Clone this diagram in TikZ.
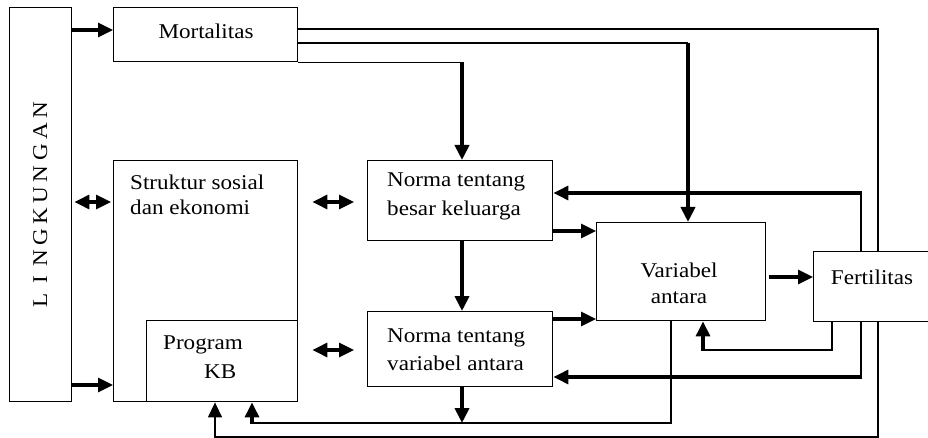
\documentclass[tikz,border=0pt]{standalone}
\usepackage{fontspec}
\setmainfont{Liberation Serif}[FakeStretch=1.1]
\usetikzlibrary{arrows.meta}
\newcommand{\lkletter}[1]{\makebox[21.2pt]{#1}}
\begin{document}
\begin{tikzpicture}[x=1pt,y=-1pt,
  box/.style={draw, line width=1.4pt, inner sep=0pt, anchor=north west},
  txt/.style={inner sep=0pt, font=\fontsize{21}{25}\selectfont, anchor=base west},
  tip/.style={-{Triangle[length=15pt,width=14pt]}},
  thinline/.style={line width=1.4pt},
  arrowthin/.style={line width=1.4pt, tip},
  arrowmid/.style={line width=3.2pt, tip},
  arrowthick/.style={line width=3.8pt, tip},
  dblarrow/.style={line width=3.2pt, {Triangle[length=15pt,width=14pt]}-{Triangle[length=15pt,width=14pt]}}]
\useasboundingbox (0,0) rectangle (928,438);
\clip (0,0) rectangle (928,438);
% boxes
\node[box, minimum width=62pt, minimum height=394pt] (ling) at (9,7) {};
\node[box, minimum width=184pt, minimum height=54pt] (mort) at (113,7) {};
\node[box, minimum width=184pt, minimum height=241pt] (struk) at (113,160) {};
\node[box, minimum width=151pt, minimum height=81pt] (kb) at (146,320) {};
\node[box, minimum width=185pt, minimum height=80pt] (nbk) at (367,160) {};
\node[box, minimum width=185pt, minimum height=75pt] (nva) at (367,311) {};
\node[box, minimum width=169pt, minimum height=98pt] (va) at (596,222) {};
\node[box, minimum width=140pt, minimum height=70pt] (fert) at (813,251) {};
% texts
\node[txt, anchor=base] (tmort) at (206,39) {Mortalitas};
\node[txt] (ts1) at (130,190) {Struktur sosial};
\node[txt] (ts2) at (130,215) {dan ekonomi};
\node[txt] (tkb1) at (163,349) {Program};
\node[txt] (tkb2) at (204,378) {KB};
\node[txt] (tn1) at (387,187) {Norma tentang};
\node[txt] (tn2) at (387,216) {besar keluarga};
\node[txt] (tv1) at (387,342) {Norma tentang};
\node[txt] (tv2) at (387,370) {variabel antara};
\node[txt, anchor=base] (tva1) at (679,277) {Variabel};
\node[txt, anchor=base] (tva2) at (679,303) {antara};
\node[txt, anchor=base] (tf) at (872,284) {Fertilitas};
\node[txt, anchor=base, rotate=90] (tl) at (47,205.5) {\lkletter{L}\lkletter{I}\lkletter{N}\lkletter{G}\lkletter{K}\lkletter{U}\lkletter{N}\lkletter{G}\lkletter{A}\lkletter{N}};
% helper rows and columns
\coordinate (y29) at (0,29);
\coordinate (y30) at (0,30);
\coordinate (y43) at (0,43);
\coordinate (y193) at (0,193);
\coordinate (y202) at (0,202);
\coordinate (y231) at (0,231);
\coordinate (y277) at (0,277);
\coordinate (y319) at (0,319);
\coordinate (y350) at (0,350);
\coordinate (y377) at (0,377);
\coordinate (y385) at (0,385);
\coordinate (y423) at (0,423);
\coordinate (y437) at (0,437);
\coordinate (x215) at (215,0);
\coordinate (x252) at (252,0);
\coordinate (x462) at (462,0);
\coordinate (x671) at (671,0);
\coordinate (x688) at (688,0);
\coordinate (x703) at (703,0);
\coordinate (x832) at (832,0);
\coordinate (x861) at (861,0);
\coordinate (x878) at (878,0);
% connectors
\draw[arrowmid] (ling.east |- y30) -- (mort.west |- y30);
\draw[arrowmid] (ling.east |- y385) -- (struk.west |- y385);
\draw[dblarrow, shorten <=2pt, shorten >=2pt] (ling.east |- y202) -- (struk.west |- y202);
\draw[dblarrow, shorten <=14pt, shorten >=13pt] (struk.east |- y202) -- (nbk.west |- y202);
\draw[dblarrow, shorten <=14pt, shorten >=13pt] (kb.east |- y350) -- (nva.west |- y350);
% Mortalitas -> Norma besar keluarga
\draw[thinline] (mort.south east) -- (x462 |- mort.south east);
\draw[arrowthick] (x462 |- mort.south east) -- (x462 |- nbk.north);
% Mortalitas -> Variabel antara
\draw[thinline] (mort.east |- y43) -- (x688 |- y43);
\draw[arrowthick] (x688 |- y43) -- (x688 |- va.north);
% Fertilitas -> Mortalitas
\draw[thinline] (x878 |- fert.north) -- (x878 |- y29) -- (mort.east |- y29);
% Fertilitas -> Norma besar keluarga
\draw[thinline] (x861 |- fert.north) -- (x861 |- y193);
\draw[arrowmid] ([xshift=1.4pt]x861 |- y193) -- (nbk.east |- y193);
% Fertilitas -> Norma variabel antara
\draw[thinline] (x861 |- fert.south) -- (x861 |- y377);
\draw[arrowmid] ([xshift=1.4pt]x861 |- y377) -- (nva.east |- y377);
% Fertilitas -> Variabel antara
\draw[thinline] (x832 |- fert.south) -- (x832 |- y350) -- (x703 |- y350);
\draw[arrowmid] ([yshift=-1pt]x703 |- y350) -- (x703 |- va.south);
% Fertilitas -> Program KB
\draw[arrowthin] (x878 |- fert.south) -- (x878 |- y437) -- (x215 |- y437) -- (x215 |- kb.south);
% Variabel antara -> Program KB
\draw[thinline] (x671 |- va.south) -- (x671 |- y423) -- (x252 |- y423);
\draw[arrowmid] ([yshift=-0.6pt]x252 |- y423) -- (x252 |- kb.south);
% Norma besar -> Norma variabel
\draw[arrowthick] (x462 |- nbk.south) -- (x462 |- nva.north);
\draw[arrowthick] (x462 |- nva.south) -- (x462 |- y423);
% Normas -> Variabel antara
\draw[arrowmid] (nbk.east |- y231) -- (va.west |- y231);
\draw[arrowmid] (nva.east |- y319) -- (va.west |- y319);
% Variabel antara -> Fertilitas
\draw[arrowmid, shorten <=3pt] (va.east |- y277) -- (fert.west |- y277);
\end{tikzpicture}
\end{document}
